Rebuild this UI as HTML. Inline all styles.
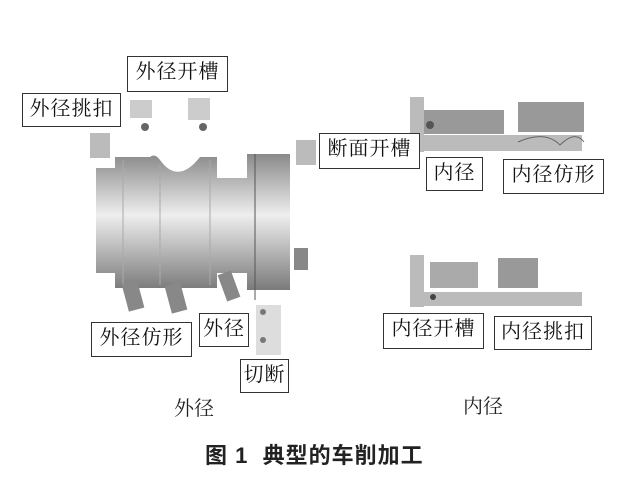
<!DOCTYPE html>
<html><head><meta charset="utf-8"><style>
body{margin:0;background:#fff;width:634px;height:477px;overflow:hidden;position:relative;font-family:"Liberation Serif","Noto Serif CJK SC",serif}
.b{position:absolute;border:1.5px solid #333;background:#fff;font-size:20px;line-height:30px;text-align:center;color:#111;box-sizing:border-box;letter-spacing:1px}
.t{position:absolute;font-size:20px;color:#222}
</style></head><body>
<svg width="634" height="477" style="position:absolute;left:0;top:0">
<defs><linearGradient id="g" x1="0" y1="0" x2="0" y2="1">
<stop offset="0" stop-color="#8a8a8a"/><stop offset="0.45" stop-color="#eeeeee"/><stop offset="1" stop-color="#7a7a7a"/></linearGradient></defs>
<path d="M115,168 L115,157 L150,157 Q155,153 160,160 Q178,185 200,157 L217,157 L217,178 L247,178 L247,154 L290,154 L290,290 L247,290 L247,273 L217,273 L217,288 L115,288 L115,273 L96,273 L96,168 Z" fill="url(#g)"/>
<line x1="255" y1="154" x2="255" y2="300" stroke="#555" stroke-width="1"/>
<line x1="123" y1="160" x2="123" y2="285" stroke="#aaa"/><line x1="160" y1="165" x2="160" y2="285" stroke="#aaa"/><line x1="210" y1="160" x2="210" y2="285" stroke="#aaa"/>
<rect x="130" y="100" width="22" height="18" fill="#ccc"/><circle cx="145" cy="127" r="4" fill="#666"/>
<rect x="188" y="98" width="22" height="22" fill="#ccc"/><circle cx="203" cy="127" r="4" fill="#666"/>
<rect x="90" y="133" width="20" height="25" fill="#bbb"/>
<rect x="296" y="140" width="20" height="25" fill="#bbb"/>
<rect x="125" y="282" width="16" height="28" fill="#888" transform="rotate(-15 133 296)"/>
<rect x="168" y="284" width="16" height="28" fill="#888" transform="rotate(-15 176 298)"/>
<rect x="222" y="272" width="14" height="28" fill="#888" transform="rotate(-20 229 286)"/>
<rect x="256" y="305" width="25" height="50" fill="#ddd"/><circle cx="263" cy="312" r="3" fill="#777"/><circle cx="263" cy="340" r="3" fill="#777"/>
<rect x="294" y="248" width="14" height="22" fill="#888"/>
<rect x="410" y="97" width="14" height="55" fill="#bbb"/>
<rect x="410" y="135" width="172" height="16" fill="#bbb"/>
<rect x="424" y="110" width="80" height="24" fill="#999"/>
<rect x="518" y="102" width="66" height="30" fill="#999"/>
<path d="M518,142 Q545,130 560,145 Q575,130 584,142" stroke="#666" fill="none"/>
<circle cx="430" cy="125" r="4" fill="#555"/>
<rect x="410" y="255" width="14" height="52" fill="#bbb"/>
<rect x="410" y="292" width="172" height="14" fill="#bbb"/>
<rect x="430" y="262" width="48" height="26" fill="#aaa"/>
<rect x="498" y="258" width="40" height="30" fill="#999"/>
<circle cx="433" cy="297" r="3" fill="#444"/>
</svg>
<div class="b" style="left:127px;top:56px;width:101px;height:36px">外径开槽</div>
<div class="b" style="left:22px;top:93px;width:99px;height:34px">外径挑扣</div>
<div class="b" style="left:319px;top:133px;width:101px;height:36px">断面开槽</div>
<div class="b" style="left:426px;top:157px;width:57px;height:34px">内径</div>
<div class="b" style="left:503px;top:159px;width:101px;height:35px">内径仿形</div>
<div class="b" style="left:383px;top:313px;width:101px;height:36px">内径开槽</div>
<div class="b" style="left:494px;top:316px;width:98px;height:34px">内径挑扣</div>
<div class="b" style="left:91px;top:322px;width:101px;height:35px">外径仿形</div>
<div class="b" style="left:199px;top:313px;width:50px;height:34px">外径</div>
<div class="b" style="left:240px;top:359px;width:49px;height:34px">切断</div>
<div class="t" style="left:174px;top:392px">外径</div>
<div class="t" style="left:463px;top:390px">内径</div>
<div class="t" style="left:205px;top:438px;font-weight:bold;font-family:'Liberation Sans','Noto Sans CJK SC',sans-serif;font-size:22px;letter-spacing:1px;white-space:pre">图 1  典型的车削加工</div>
</body></html>
